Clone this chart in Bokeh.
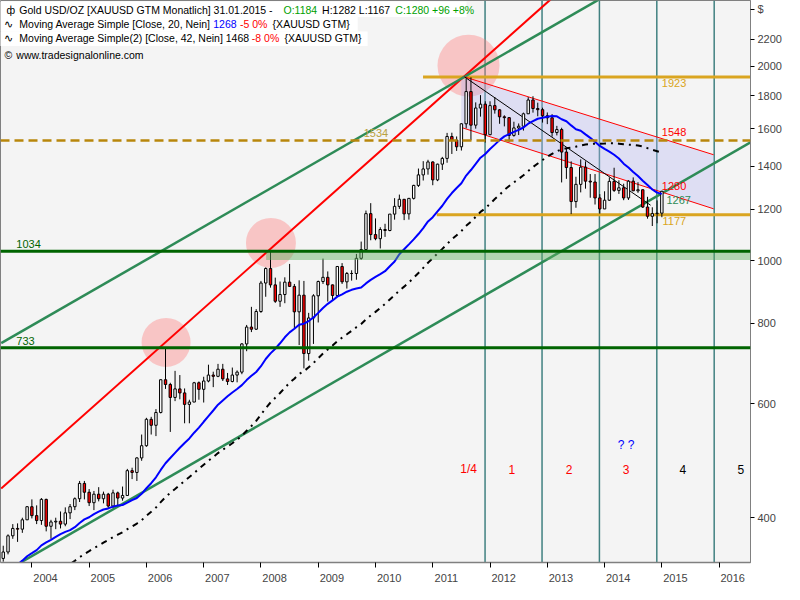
import numpy as np
import pandas as pd
from bokeh.plotting import figure
from bokeh.models import (Range1d, FixedTicker, NumeralTickFormatter, BoxAnnotation,
                          Span, ColumnDataSource)
from bokeh.core.properties import value
from bokeh.embed import file_html
from bokeh.resources import INLINE

# ---------------- data (monthly XAUUSD, Jul 2003 .. Jan 2015) ----------------
first_month = "2003-07-01"
opens = [346, 354, 375, 385, 384, 397,
         416, 403, 396, 427, 388, 394, 395, 391, 407, 416, 428, 452,
         438, 422, 435, 428, 435, 417, 437, 429, 433, 473, 470, 495,
         517, 568, 556, 582, 654, 643, 614, 633, 624, 599, 604, 647,
         632, 651, 665, 662, 679, 656, 650, 665, 672, 743, 789, 783,
         834, 923, 972, 917, 865, 886, 926, 912, 833, 884, 718, 815,
         882, 928, 942, 917, 883, 979, 927, 955, 955, 1008, 1040, 1182,
         1097, 1081, 1117, 1113, 1180, 1213, 1244, 1181, 1248, 1307, 1357, 1386,
         1421, 1333, 1410, 1439, 1556, 1536, 1500, 1628, 1826, 1620, 1722, 1746,
         1566, 1737, 1711, 1669, 1664, 1562, 1604, 1614, 1687, 1772, 1719, 1712,
         1675, 1663, 1578, 1595, 1472, 1393, 1234, 1312, 1395, 1327, 1323, 1250,
         1202, 1240, 1326, 1284, 1296, 1250, 1327, 1282, 1287, 1210, 1171, 1182,
         1184]
highs = [362, 377, 391, 392, 400, 417,
         427, 418, 429, 428, 397, 400, 409, 415, 420, 430, 456, 456,
         443, 440, 446, 439, 437, 442, 439, 447, 476, 478, 496, 538,
         571, 573, 589, 655, 730, 647, 675, 665, 634, 609, 649, 650,
         661, 690, 673, 692, 692, 670, 683, 676, 745, 795, 848, 841,
         930, 976, 1032, 941, 928, 942, 988, 920, 932, 930, 830, 887,
         931, 1007, 962, 918, 981, 991, 960, 966, 1024, 1070, 1195, 1227,
         1162, 1126, 1140, 1180, 1249, 1265, 1245, 1250, 1310, 1388, 1425, 1432,
         1424, 1412, 1447, 1576, 1577, 1556, 1632, 1913, 1921, 1757, 1803, 1764,
         1764, 1791, 1716, 1678, 1667, 1640, 1630, 1694, 1790, 1796, 1755, 1724,
         1695, 1685, 1616, 1605, 1488, 1424, 1348, 1434, 1424, 1361, 1361, 1267,
         1280, 1345, 1392, 1331, 1315, 1332, 1345, 1322, 1288, 1255, 1209, 1239,
         1282]
lows = [342, 351, 371, 367, 379, 397,
        399, 391, 390, 381, 371, 384, 385, 388, 398, 411, 423, 427,
        417, 411, 424, 421, 414, 414, 418, 425, 433, 459, 456, 490,
        515, 538, 535, 580, 633, 543, 606, 610, 560, 560, 604, 609,
        603, 648, 637, 660, 651, 642, 648, 648, 667, 724, 775, 781,
        830, 879, 908, 860, 848, 859, 910, 786, 740, 681, 700, 743,
        802, 920, 864, 866, 879, 920, 905, 931, 934, 1003, 1033, 1075,
        1075, 1044, 1088, 1110, 1157, 1202, 1155, 1157, 1243, 1300, 1330, 1358,
        1308, 1327, 1381, 1417, 1462, 1478, 1480, 1602, 1535, 1600, 1670, 1523,
        1563, 1688, 1628, 1613, 1527, 1555, 1564, 1589, 1686, 1694, 1672, 1635,
        1626, 1555, 1562, 1321, 1338, 1180, 1207, 1275, 1292, 1251, 1221, 1182,
        1202, 1237, 1277, 1268, 1240, 1241, 1281, 1273, 1206, 1161, 1131, 1142,
        1167]
closes = [354, 375, 385, 384, 397, 416,
          403, 396, 427, 388, 394, 395, 391, 407, 416, 428, 452, 438,
          422, 435, 428, 435, 417, 437, 429, 433, 473, 470, 495, 517,
          568, 556, 582, 654, 643, 614, 633, 624, 599, 604, 647, 632,
          651, 665, 662, 679, 656, 650, 665, 672, 743, 789, 783, 834,
          923, 972, 917, 865, 886, 926, 912, 833, 884, 718, 815, 882,
          928, 942, 917, 883, 979, 927, 955, 955, 1008, 1040, 1182, 1097,
          1081, 1117, 1113, 1180, 1213, 1244, 1181, 1248, 1307, 1357, 1386, 1421,
          1333, 1410, 1439, 1556, 1536, 1500, 1628, 1826, 1620, 1722, 1746, 1566,
          1737, 1711, 1669, 1664, 1562, 1604, 1614, 1687, 1772, 1719, 1712, 1675,
          1663, 1578, 1595, 1472, 1393, 1234, 1312, 1395, 1327, 1323, 1250, 1202,
          1240, 1326, 1284, 1296, 1250, 1327, 1282, 1287, 1210, 1171, 1182, 1184,
          1280]
# closes Jan 2001 .. Jun 2003, only used to compute the moving averages
prior_closes = [265.6, 266.7, 257.7, 263.2, 267.5, 270.6, 265.9, 273.0, 293.1, 278.8, 275.5, 276.5,
                282.3, 296.9, 301.4, 308.2, 326.6, 318.5, 304.7, 312.8, 323.7, 316.9, 317.7, 347.2,
                367.5, 347.5, 334.9, 336.8, 361.4, 346.0]
sma_fast_len = 20
sma_slow_len = 42

year_ticks = [2004, 2005, 2006, 2007, 2008, 2009, 2010, 2011, 2012, 2013, 2014, 2015, 2016]
price_ticks = [400, 600, 800, 1000, 1200, 1400, 1600, 1800, 2000, 2200]

# analysis drawings (year, price)
red_trend_x, red_trend_y = [2003.464, 2013.058], [443.7, 2536]
green_up_x, green_up_y = [2003.464, 2013.905], [745, 2536]
green_lo_x, green_lo_y = [2003.81, 2016.548], [341.2, 1524]
chan_up_x, chan_up_y = [2011.555, 2015.904], [1924, 1458]
chan_lo_x, chan_lo_y = [2011.498, 2015.904], [1607, 1202.5]
chan_fill_x = [2011.498, 2015.904, 2015.904, 2011.498]
chan_fill_y = [1930, 1458, 1202.5, 1607]
thin_x, thin_y = [2011.555, 2014.803], [1924, 1218]
lvl1923_x, lvl1923_y = [2010.83, 2016.548], [1923, 1923]
lvl1177_x, lvl1177_y = [2011.07, 2016.548], [1177, 1177]
support_levels = [1034, 733]
dashed_level = 1534
band_left, band_bottom, band_top = 2008.09, 1002, 1034
cycle_lines = [2011.913, 2012.908, 2013.910, 2014.912, 2015.914]
circle_x = [2011.624, 2008.174, 2006.343]
circle_y = [2003, 1065, 747]

level_text = ["1034", "733", "1534", "1923", "1548", "1280", "1267", "1177"]
level_x = [2003.729, 2003.729, 2009.793, 2014.999, 2014.999, 2014.999, 2015.080, 2015.011]
level_y = [1062, 751, 1578, 1884, 1580, 1304, 1240, 1153]
level_col = ["#006400", "#006400", "#b8a040", "#daa520", "#ff0000", "#ff0000", "#2e8b57", "#daa520"]

count_text = ["1/4", "1", "2", "3", "4", "5", "? ?"]
count_x = [2011.625, 2012.379, 2013.381, 2014.376, 2015.368, 2016.381, 2014.376]
count_y = [475, 475, 475, 475, 475, 475, 519]
count_col = ["#ff0000", "#ff0000", "#ff0000", "#ff0000", "black", "black", "#0000ff"]

# ---------------- derived ----------------
months = pd.date_range(first_month, periods=len(closes), freq="MS")
x_month = (months.year + (months.month - 1) / 12.0).to_numpy(dtype=float)
all_c = pd.Series(prior_closes + closes, dtype=float)
k = len(prior_closes)
sma_fast = all_c.rolling(sma_fast_len).mean().to_numpy()[k:]
sma_slow = all_c.rolling(sma_slow_len).mean().to_numpy()[k:]

o = np.array(opens, float); h = np.array(highs, float)
l = np.array(lows, float); c = np.array(closes, float)
src = ColumnDataSource(dict(x=x_month, top=np.maximum(o, c), bottom=np.minimum(o, c),
                            high=h, low=l, fill=np.where(c >= o, "white", "#ff0000")))

# reference-pixel -> data helpers for annotation placement
def px_x(px):
    return 2004 + (px - 32.7) / 57.88

def px_y(py):
    return 400 * np.exp((534 - py) / 289.2)

FONT = "Liberation Sans"

p = figure(width=784, height=584, output_backend="svg", toolbar_location=None,
           x_range=Range1d(2003.452, 2016.548), y_range=Range1d(341, 2526),
           y_axis_type="log", y_axis_location="right",
           min_border_left=0, min_border_top=0, min_border_right=0, min_border_bottom=0,
           background_fill_color="#f4f4f4", border_fill_color="white",
           outline_line_color="#808080")
p.grid.grid_line_color = None

# axes
ya = p.yaxis[0]
ya.ticker = FixedTicker(ticks=price_ticks + [2450])
ya.formatter = NumeralTickFormatter(format="0")
ya.major_label_overrides = {2450: "$"}
ya.major_tick_in = 0
ya.major_tick_out = 4
ya.minor_tick_out = 0
ya.axis_line_color = "#808080"
ya.major_label_text_font = FONT
ya.major_label_text_font_size = "11px"
ya.major_label_standoff = 3

xa = p.xaxis[0]
xa.ticker = FixedTicker(ticks=[y + 0.238 for y in year_ticks], minor_ticks=year_ticks)
xa.formatter = NumeralTickFormatter(format="0")
xa.major_tick_in = 0
xa.major_tick_out = 0
xa.minor_tick_in = 0
xa.minor_tick_out = 5
xa.minor_tick_line_color = "black"
xa.axis_line_color = "#808080"
xa.axis_line_width = 1.5
xa.major_label_text_font = FONT
xa.major_label_text_font_size = "11px"
xa.major_label_standoff = 6

# header backgrounds
for (x0, x1, y0, y1) in [(0, 472, 2, 18), (0, 362, 18, 33), (0, 372, 33, 48)]:
    p.add_layout(BoxAnnotation(left=px_x(x0), right=px_x(x1), top=px_y(y0), bottom=px_y(y1),
                               fill_color="white", fill_alpha=1, line_color=None, level="underlay"))

# cycle verticals (under candles)
for cx in cycle_lines:
    p.add_layout(Span(location=cx, dimension="height", line_color="#408080",
                      line_width=1.5, level="underlay"))

# circles and channel shading
p.scatter(circle_x, circle_y, size=[62, 50, 49], fill_color="#ff8080", fill_alpha=0.4,
          line_color=None)
p.patch(chan_fill_x, chan_fill_y, fill_color="#b4b4f0", fill_alpha=0.35, line_color=None)

# horizontal partial levels
p.line(lvl1923_x, lvl1923_y, line_color="#daa520", line_width=3)
p.line(lvl1177_x, lvl1177_y, line_color="#daa520", line_width=3)

# trend lines
p.line(red_trend_x, red_trend_y, line_color="#ff0000", line_width=2)
p.line(green_up_x, green_up_y, line_color="#2e8b57", line_width=2.5)
p.line(green_lo_x, green_lo_y, line_color="#2e8b57", line_width=2.5)
p.line(chan_up_x, chan_up_y, line_color="#ff0000", line_width=1)
p.line(chan_lo_x, chan_lo_y, line_color="#ff0000", line_width=1)
p.line(thin_x, thin_y, line_color="black", line_width=1)

# candles
p.segment(x0="x", y0="low", x1="x", y1="high", source=src, line_color="black", line_width=1)
p.vbar(x="x", width=0.042, top="top", bottom="bottom", fill_color="fill",
       line_color="black", line_width=1, source=src)

# moving averages
p.line(x_month, sma_fast, line_color="#0000ff", line_width=2)
p.line(x_month, sma_slow, line_color="black", line_width=2, line_dash="6 5 2 5")

# band & level spans
p.add_layout(BoxAnnotation(left=band_left, bottom=band_bottom, top=band_top,
                           fill_color="#60b060", fill_alpha=0.45, line_color=None))
for lv in support_levels:
    p.add_layout(Span(location=lv, dimension="width", line_color="#006400", line_width=3))
p.add_layout(Span(location=dashed_level, dimension="width", line_color="#b8860b",
                  line_width=2.5, line_dash="9 5"))

# level labels
p.text(level_x, level_y, text=level_text, text_color=level_col, text_font=value(FONT),
       text_font_size="11px", text_baseline="middle", text_align="left")
# cycle counts
p.text(count_x, count_y, text=count_text, text_color=count_col, text_font=value(FONT),
       text_font_size="12px", text_baseline="middle", text_align="center")

# header texts
header = [
    ("ф", 7, 11, "black"),
    ("Gold USD/OZ [XAUUSD GTM  Monatlich] 31.01.2015 - ", 20, 11, "black"),
    ("O:1184", 287, 11, "#00a000"),
    ("H:1282 L:1167", 326, 11, "black"),
    ("C:1280 +96 +8%", 400, 11, "#00a000"),
    ("∿", 5, 25, "black"),
    ("Moving Average Simple [Close, 20, Nein]", 20, 25, "black"),
    ("1268", 216, 25, "#0000ff"),
    ("-5 0%", 243, 25, "#ff0000"),
    ("{XAUUSD GTM}", 276, 25, "black"),
    ("∿", 5, 40, "black"),
    ("Moving Average Simple(2) [Close, 42, Nein] 1468", 20, 40, "black"),
    ("-8 0%", 255, 40, "#ff0000"),
    ("{XAUUSD GTM}", 288, 40, "black"),
    ("©", 5, 57, "black"),
    ("www.tradesignalonline.com", 17, 57, "black"),
]
p.text([px_x(t[1]) for t in header], [px_y(t[2]) for t in header],
       text=[t[0] for t in header], text_color=[t[3] for t in header],
       text_font=value(FONT), text_font_size="10.5px", text_baseline="middle",
       text_align="left")

open("out.html", "w").write(file_html(p, INLINE))
